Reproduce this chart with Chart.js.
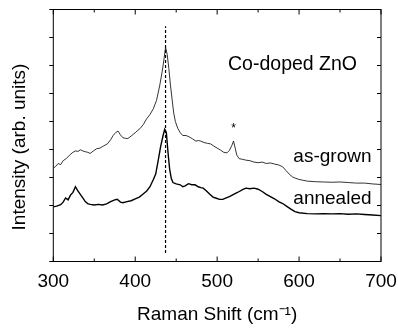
<!DOCTYPE html>
<html>
<head>
<meta charset="utf-8">
<script src="https://cdn.jsdelivr.net/npm/chart.js@4/dist/chart.umd.min.js"></script>
<style>
  html, body { margin: 0; padding: 0; background: #fff; }
  #grafico { display: block; }
</style>
</head>
<body>
<canvas id="grafico" width="398" height="329"></canvas>
<script>
// espectro "as-grown" (linea fina)
const desplazamientoCrecido = [300, 303, 306, 309, 312, 316, 320, 323, 327, 330, 333, 336, 339, 342, 345, 349, 353, 357, 361, 366,
    370, 373, 376, 379, 382, 385, 388, 391, 395, 400, 403, 406, 410, 414, 418, 422, 426, 430, 433, 435,
    437, 439, 441, 443, 445, 447, 449, 452, 455, 458, 462, 466, 470, 474, 477, 480, 484, 488, 492, 496,
    500, 504, 508, 512, 515, 518, 520, 522, 524, 527, 531, 535, 540, 545, 550, 555, 560, 565, 570, 575,
    580, 584, 588, 592, 596, 600, 605, 610, 620, 630, 640, 650, 660, 670, 680, 690, 700];
const intensidadCrecido = [3.33, 3.4, 3.5, 3.46, 3.6, 3.68, 3.8, 3.88, 3.95, 3.93, 3.99, 3.95, 3.92, 3.9, 3.86, 3.95, 4.03, 4.05, 4.12, 4.2,
    4.35, 4.5, 4.6, 4.66, 4.52, 4.42, 4.4, 4.39, 4.48, 4.6, 4.68, 4.75, 4.9, 5.1, 5.25, 5.45, 5.75, 6.3, 6.8, 7.2,
    7.65, 7.4, 6.9, 6.3, 5.8, 5.3, 5.0, 4.75, 4.6, 4.5, 4.5, 4.45, 4.38, 4.3, 4.32, 4.3, 4.25, 4.22, 4.2, 4.12,
    4.05, 3.98, 3.9, 3.88, 3.97, 4.15, 4.3, 4.05, 3.8, 3.67, 3.65, 3.62, 3.6, 3.55, 3.53, 3.55, 3.5, 3.52, 3.48, 3.45,
    3.38, 3.25, 3.12, 3.02, 2.97, 2.93, 2.9, 2.87, 2.85, 2.84, 2.83, 2.84, 2.82, 2.8, 2.8, 2.77, 2.75];

// espectro "annealed" (linea gruesa)
const desplazamientoRecocido = [300, 304, 309, 312, 315, 318, 321, 324, 327, 330, 333, 336, 339, 342, 345, 350, 355, 360, 365, 370,
    375, 378, 382, 385, 390, 395, 400, 405, 410, 414, 418, 422, 425, 428, 431, 434, 436, 438, 440, 442,
    444, 446, 450, 455, 458, 461, 465, 469, 473, 477, 480, 483, 487, 491, 495, 499, 503, 507, 511, 515,
    519, 523, 527, 531, 535, 540, 545, 550, 555, 560, 565, 570, 575, 580, 585, 590, 595, 600, 610, 620,
    630, 640, 650, 660, 670, 680, 690, 700];
const intensidadRecocido = [1.95, 1.98, 2.03, 2.12, 2.27, 2.2, 2.37, 2.47, 2.67, 2.52, 2.4, 2.27, 2.14, 2.07, 2.04, 2.02, 2.04, 2.02, 2.06, 2.14,
    2.2, 2.22, 2.12, 2.1, 2.14, 2.17, 2.24, 2.3, 2.42, 2.52, 2.67, 2.92, 3.12, 3.6, 4.1, 4.5, 4.72, 4.6, 3.9, 3.3,
    2.97, 2.82, 2.77, 2.74, 2.67, 2.7, 2.78, 2.74, 2.74, 2.67, 2.64, 2.62, 2.52, 2.4, 2.3, 2.26, 2.22, 2.22, 2.27, 2.32,
    2.38, 2.44, 2.5, 2.57, 2.62, 2.6, 2.62, 2.58, 2.5, 2.4, 2.32, 2.24, 2.14, 2.07, 1.97, 1.87, 1.78, 1.74, 1.71, 1.7,
    1.71, 1.7, 1.71, 1.69, 1.7, 1.68, 1.66, 1.64];

// linea discontinua del modo E2(high)
const posicionPico = 437;
const extremosPico = [0.3, 8.4];

const ticksX = [300, 400, 500, 600, 700];

const fuente = 'Liberation Sans, Arial, Helvetica, sans-serif';

function aPuntos(xs, ys) {
    let puntos = [];
    for (let i = 0; i < xs.length; i++) {
        puntos.push({ x: xs[i], y: ys[i] });
    }
    return puntos;
}

// textos dentro del grafico, en coordenadas de datos
const textos = [
    { texto: 'Co-doped ZnO', x: 592, y: 6.84, alinear: 'center', tam: 19.5 },
    { texto: 'as-grown', x: 593, y: 3.55, alinear: 'left', tam: 19 },
    { texto: 'annealed', x: 593, y: 2.05, alinear: 'left', tam: 19 },
    { texto: '*', x: 520, y: 4.62, alinear: 'center', tam: 12 }
];
const tituloY = 'Intensity (arb. units)';

// marco con ticks hacia dentro, como en la figura original
const marco = {
    id: 'marco',
    afterDraw(chart) {
        const { ctx, chartArea: a, scales: { x, y } } = chart;
        ctx.save();
        ctx.strokeStyle = '#000';
        ctx.lineWidth = 1;
        ctx.strokeRect(a.left, a.top, a.right - a.left, a.bottom - a.top);
        ctx.beginPath();
        for (let v = 300; v <= 700; v += 50) {
            const px = x.getPixelForValue(v);
            const largo = v % 100 === 0 ? 5 : 3;
            ctx.moveTo(px, a.bottom); ctx.lineTo(px, a.bottom - largo);
            ctx.moveTo(px, a.top); ctx.lineTo(px, a.top + largo);
        }
        for (let v = 0; v <= 9; v++) {
            const py = y.getPixelForValue(v);
            ctx.moveTo(a.left, py); ctx.lineTo(a.left - 4, py);
            ctx.moveTo(a.right, py); ctx.lineTo(a.right - 4, py);
        }
        ctx.stroke();

        ctx.fillStyle = '#000';
        ctx.textBaseline = 'alphabetic';
        for (let t of textos) {
            ctx.font = t.tam + 'px ' + fuente;
            ctx.textAlign = t.alinear;
            ctx.fillText(t.texto, x.getPixelForValue(t.x), y.getPixelForValue(t.y));
        }

        // titulo del eje y, algo por debajo del centro como en el original
        ctx.translate(20, 147);
        ctx.rotate(-Math.PI / 2);
        ctx.font = '19px ' + fuente;
        ctx.textAlign = 'center';
        ctx.textBaseline = 'middle';
        ctx.fillText(tituloY, 0, 0);
        ctx.restore();
    }
};

new Chart(document.getElementById('grafico'), {
    type: 'scatter',
    data: {
        datasets: [
            {
                data: aPuntos(desplazamientoCrecido, intensidadCrecido),
                showLine: true, borderColor: '#000', borderWidth: 0.8, pointRadius: 0
            },
            {
                data: aPuntos(desplazamientoRecocido, intensidadRecocido),
                showLine: true, borderColor: '#000', borderWidth: 1.4, pointRadius: 0
            },
            {
                data: [{ x: posicionPico, y: extremosPico[0] }, { x: posicionPico, y: extremosPico[1] }],
                showLine: true, borderColor: '#000', borderWidth: 1.2, borderDash: [3, 2], pointRadius: 0
            }
        ]
    },
    plugins: [marco],
    options: {
        responsive: false,
        animation: false,
        layout: { padding: { top: 9.5, right: 17, left: 0, bottom: 0 } },
        plugins: { legend: { display: false }, tooltip: { enabled: false } },
        scales: {
            x: {
                type: 'linear', min: 300, max: 700,
                afterFit: (s) => { s.height = 67.5; s.paddingLeft = 0; s.paddingRight = 0; },
                afterBuildTicks: (s) => { s.ticks = ticksX.map(v => ({ value: v })); },
                grid: { display: false },
                border: { display: false },
                ticks: { color: '#000', padding: 1, font: { family: fuente, size: 19 } },
                title: {
                    display: true, text: 'Raman Shift (cm\u207B\u00B9)', color: '#000',
                    padding: { top: 0, bottom: 3 }, font: { family: fuente, size: 19 }
                }
            },
            y: {
                type: 'linear', min: 0, max: 9,
                afterFit: (s) => { s.width = 53.3; },
                grid: { display: false },
                border: { display: false },
                ticks: { display: false },
                title: { display: false }
            }
        }
    }
});
</script>
</body>
</html>
